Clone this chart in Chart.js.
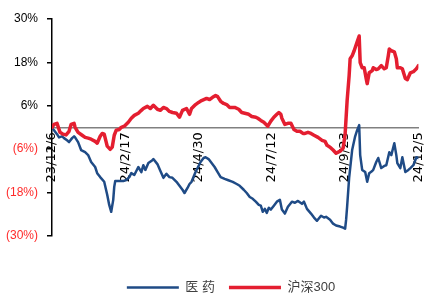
<!DOCTYPE html>
<html>
<head>
<meta charset="utf-8">
<script src="https://cdn.jsdelivr.net/npm/chart.js@4"></script>
<style>
  body { margin: 0; background: #fff; }
  #wrap { width: 439px; height: 297px; }
</style>
</head>
<body>
<div id="wrap"><canvas id="chart"></canvas></div>
<script>
// x = calendar days since 23/12/6, y = cumulative return (%)
const tickDays = [0, 73, 146, 219, 292, 365];
const tickLabels = ['23/12/6', '24/2/17', '24/4/30', '24/7/12', '24/9/23', '24/12/5'];
const yTicks = [30, 18, 6, -6, -18, -30];

// 沪深300
const hsDays = [0, 2, 5, 8, 11, 14, 17, 19, 22, 23, 26, 30, 33, 36, 39, 43, 45, 48, 50, 52, 55, 58, 60, 62, 64, 67, 69, 72, 76, 79, 82, 86, 89, 91, 95, 98, 101, 105, 108, 111, 114, 117, 120, 124, 127, 130, 134, 137, 139, 143, 146, 149, 154, 157, 160, 163, 165, 168, 171, 174, 177, 180, 182, 186, 189, 192, 196, 199, 203, 205, 208, 211, 215, 218, 221, 224, 226, 228, 229, 232, 235, 238, 241, 244, 247, 250, 252, 255, 258, 261, 265, 269, 272, 274, 277, 280, 283, 287, 290, 292, 294, 296, 297, 299, 301, 304, 306, 307, 309, 311, 313, 314, 316, 319, 320, 323, 325, 328, 331, 333, 335, 336, 338, 341, 343, 344, 347, 349, 352, 354, 357, 360, 363, 365];
const hsValues = [0.0, 0.8, 1.1, -1.4, -1.9, -2.1, -1.1, 0.8, 1.1, 0.0, -1.4, -2.2, -2.8, -3.0, -3.3, -3.9, -4.4, -2.5, -1.7, -1.9, -5.2, -6.1, -5.5, -2.2, -0.8, -0.6, 0.0, 0.3, 1.4, 2.5, 3.3, 3.9, 4.7, 5.2, 5.8, 5.2, 6.1, 5.0, 4.7, 5.5, 5.2, 4.4, 4.1, 3.9, 2.8, 4.7, 5.2, 3.6, 5.2, 6.3, 6.9, 7.4, 8.0, 7.7, 8.3, 8.8, 8.5, 7.2, 6.6, 6.3, 5.5, 5.5, 5.5, 5.0, 4.1, 3.9, 3.6, 3.0, 2.8, 2.5, 1.9, 1.4, 0.3, 1.7, 2.8, 3.6, 4.1, 3.6, 2.5, 0.8, 1.1, 1.1, -0.6, -1.1, -1.1, -1.7, -1.7, -1.4, -1.7, -2.2, -2.8, -3.6, -3.9, -5.0, -5.5, -6.3, -7.2, -6.6, -5.8, -1.9, 7.4, 14.3, 19.0, 19.8, 21.2, 23.7, 25.3, 17.9, 16.5, 16.5, 13.5, 12.1, 15.1, 15.7, 16.5, 16.0, 16.2, 17.1, 16.2, 16.5, 19.8, 21.7, 21.2, 20.9, 19.0, 16.5, 16.5, 16.2, 13.5, 13.2, 15.1, 15.4, 16.2, 17.1];

// 医药
const medDays = [0, 2, 5, 7, 10, 12, 15, 17, 20, 22, 23, 26, 29, 33, 36, 39, 43, 45, 48, 52, 55, 57, 59, 61, 62, 63, 68, 71, 74, 77, 79, 82, 86, 89, 91, 93, 96, 100, 101, 105, 108, 111, 114, 117, 120, 124, 127, 130, 132, 135, 137, 139, 143, 146, 148, 151, 153, 156, 159, 162, 165, 168, 172, 175, 180, 184, 187, 191, 194, 197, 200, 203, 206, 208, 210, 212, 214, 216, 218, 221, 224, 227, 229, 232, 235, 239, 242, 245, 249, 251, 254, 258, 261, 264, 268, 271, 273, 277, 280, 283, 287, 290, 292, 293, 294, 296, 299, 302, 304, 306, 307, 309, 312, 314, 316, 319, 320, 323, 325, 328, 331, 333, 336, 338, 341, 343, 344, 347, 349, 352, 355, 357, 360, 363, 365];
const medValues = [-0.3, -0.8, -1.9, -2.8, -2.5, -3.0, -3.6, -4.1, -3.0, -2.5, -2.8, -4.1, -6.3, -6.9, -7.7, -9.6, -11.0, -12.7, -13.8, -15.1, -18.7, -21.5, -23.4, -20.1, -16.5, -14.9, -14.9, -14.9, -14.6, -13.8, -12.7, -13.2, -11.0, -12.4, -10.5, -11.8, -9.9, -9.1, -8.8, -10.2, -12.1, -14.0, -12.9, -13.8, -14.0, -15.1, -16.2, -17.3, -18.2, -16.8, -15.7, -15.1, -12.4, -10.7, -9.6, -8.5, -8.3, -8.8, -9.9, -11.0, -12.4, -13.8, -14.3, -14.6, -15.1, -15.7, -16.2, -17.3, -18.2, -19.3, -19.8, -20.6, -21.5, -21.7, -23.4, -22.6, -23.7, -22.3, -22.8, -21.7, -20.6, -20.1, -22.8, -23.9, -22.0, -20.6, -20.9, -20.4, -21.2, -20.6, -22.6, -23.9, -25.0, -25.9, -24.5, -25.0, -24.8, -25.6, -26.7, -27.2, -27.5, -27.8, -28.1, -25.6, -22.0, -14.0, -6.3, -2.5, -0.8, 0.6, -7.7, -11.8, -12.4, -15.1, -12.7, -12.1, -11.8, -9.6, -8.5, -11.3, -10.7, -10.5, -6.9, -7.7, -4.4, -7.7, -9.9, -11.3, -8.3, -12.4, -11.8, -11.3, -10.5, -8.3, -8.5];

const toPoints = (days, vals) => days.map((d, i) => ({ x: d, y: vals[i] }));

const font = "'Liberation Sans', 'Noto Sans CJK SC', sans-serif";

// nudge the legend row right, the original is centred a bit off the canvas middle
const legendShift = {
  id: 'legendShift',
  afterLayout(chart) {
    chart.legend.left += 14;
    chart.legend.right += 14;
  },
};

const ctx = document.getElementById('chart').getContext('2d');
new Chart(ctx, {
  type: 'line',
  data: {
    datasets: [
      {
        label: '医 药',
        data: toPoints(medDays, medValues),
        borderColor: '#1F4B86',
        backgroundColor: '#1F4B86',
        borderWidth: 2.5,
        order: 1,
      },
      {
        label: '沪深300',
        data: toPoints(hsDays, hsValues),
        borderColor: '#E41E30',
        backgroundColor: '#E41E30',
        borderWidth: 3.5,
        order: 0,
      },
    ],
  },
  plugins: [legendShift],
  options: {
    responsive: true,
    maintainAspectRatio: false,
    animation: false,
    elements: {
      point: { radius: 0 },
      line: { tension: 0, borderJoinStyle: 'round', borderCapStyle: 'round' },
    },
    // negative bottom padding lets the legend row sit low like the original
    layout: { padding: { top: 19, right: 5, left: 0, bottom: -7 } },
    plugins: {
      tooltip: { enabled: false },
      legend: {
        position: 'bottom',
        title: { display: true, text: '', padding: { top: 17, bottom: 0 } },
        labels: {
          usePointStyle: true,
          pointStyle: 'line',
          pointStyleWidth: 52,
          padding: 14,
          color: '#404040',
          font: { family: font, size: 13 },
          sort: (a, b) => a.datasetIndex - b.datasetIndex,
        },
      },
    },
    scales: {
      x: {
        type: 'linear',
        position: { y: 0 },
        min: 0,
        max: 365,
        afterBuildTicks: (s) => { s.ticks = tickDays.map((v) => ({ value: v })); },
        grid: { display: false, drawTicks: false },
        border: { display: true, color: '#808080', width: 1.5 },
        ticks: {
          autoSkip: false,
          minRotation: 90,
          maxRotation: 90,
          padding: 5,
          color: '#000',
          font: { family: "'DejaVu Sans', sans-serif", size: 13 },
          callback: (v) => tickLabels[tickDays.indexOf(v)],
        },
      },
      y: {
        min: -30,
        max: 30,
        afterBuildTicks: (s) => { s.ticks = yTicks.map((v) => ({ value: v })); },
        afterFit: (s) => { s.width = 52; },
        grid: { drawOnChartArea: false, drawTicks: true, tickLength: 5, color: '#000', lineWidth: 1.5 },
        border: { display: true, color: '#000', width: 1.5 },
        ticks: {
          padding: 9,
          font: { family: font, size: 12 },
          color: (c) => (c.tick && c.tick.value < 0 ? '#FF2A2A' : '#000'),
          callback: (v) => (v < 0 ? '(' + Math.abs(v) + '%)' : v + '%'),
        },
      },
    },
  },
});
</script>
</body>
</html>
